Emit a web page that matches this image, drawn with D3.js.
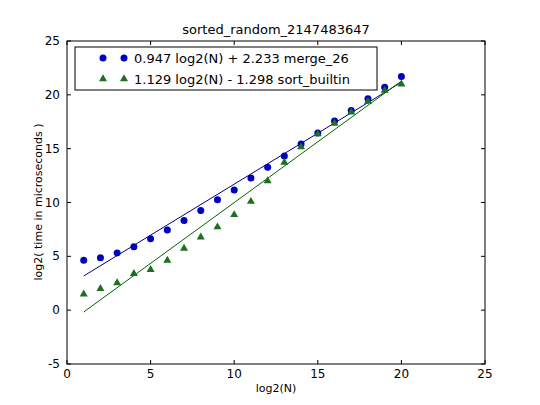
<!DOCTYPE html>
<html><head><meta charset="utf-8">
<script src="https://cdn.jsdelivr.net/npm/d3@7"></script>
<style>body{margin:0;background:#fff}text{font-family:"DejaVu Sans",sans-serif}</style>
</head><body><svg id="c" width="540" height="405"></svg>
<script>
const xs = d3.range(1, 21)
const merge26 = [4.63,4.88,5.31,5.9,6.64,7.44,8.33,9.26,10.25,11.17,12.28,13.27,14.32,15.43,16.45,17.56,18.55,19.63,20.71,21.7]
const builtin = [1.48,2.0,2.53,3.4,3.77,4.63,5.74,6.79,7.72,8.86,10.09,12.0,13.73,15.15,16.36,17.35,18.4,19.38,20.4,20.99]
const fits = [[0.947, 2.233], [1.129, -1.298]]
const labels = ['0.947 log2(N) + 2.233 merge_26', '1.129 log2(N) - 1.298 sort_builtin']
const colors = ['#0000bf', '#1f6f1f']
const lineColors = ['#00007f', '#006400']
const xTicks = [0,5,10,15,20,25], yTicks = [-5,0,5,10,15,20,25]

const svg = d3.select('#c')
const x = d3.scaleLinear().domain([0,25]).range([67,485])
const y = d3.scaleLinear().domain([-5,25]).range([364,41])

svg.append('rect').attr('x',67).attr('y',41).attr('width',418).attr('height',323)
    .attr('fill','none').attr('stroke','#000')

// ticks inside the frame, on both sides
xTicks.forEach(t => {
  svg.append('line').attr('x1',x(t)).attr('x2',x(t)).attr('y1',364).attr('y2',360).attr('stroke','#000')
  svg.append('line').attr('x1',x(t)).attr('x2',x(t)).attr('y1',41).attr('y2',45).attr('stroke','#000')
  svg.append('text').attr('x',x(t)).attr('y',378).attr('text-anchor','middle').attr('font-size',12).text(t)
})
yTicks.forEach(t => {
  svg.append('line').attr('x1',67).attr('x2',71).attr('y1',y(t)).attr('y2',y(t)).attr('stroke','#000')
  svg.append('line').attr('x1',485).attr('x2',481).attr('y1',y(t)).attr('y2',y(t)).attr('stroke','#000')
  svg.append('text').attr('x',60).attr('y',y(t)+4).attr('text-anchor','end').attr('font-size',12).text(t)
})

svg.append('text').attr('x',276).attr('y',34).attr('text-anchor','middle').attr('font-size',13).text('sorted_random_2147483647')
svg.append('text').attr('x',276).attr('y',392).attr('text-anchor','middle').attr('font-size',11).text('log2(N)')
svg.append('text').attr('transform','translate(42,202) rotate(-90)').attr('text-anchor','middle').attr('font-size',11).text('log2( time in microseconds )')

fits.forEach(([a,b], i) => {
  svg.append('line').attr('x1',x(1)).attr('y1',y(a*1+b)).attr('x2',x(20)).attr('y2',y(a*20+b))
      .attr('stroke',lineColors[i]).attr('stroke-width',1)
})

const tri = d3.symbol().type(d3.symbolTriangle).size(28)
svg.selectAll('.m').data(xs).join('circle')
    .attr('cx',d=>x(d)).attr('cy',(d,i)=>y(merge26[i])).attr('r',3.5).attr('fill',colors[0])
svg.selectAll('.b').data(xs).join('path').attr('d',tri)
    .attr('transform',(d,i)=>`translate(${x(d)},${y(builtin[i])})`).attr('fill',colors[1])

// legend
svg.append('rect').attr('x',75).attr('y',47).attr('width',302).attr('height',43).attr('fill','#fff').attr('stroke','#000')
labels.forEach((l,i) => {
  const ly = 58 + i*21
  ;[103,124].forEach(px => {
    if (i === 0) svg.append('circle').attr('cx',px).attr('cy',ly).attr('r',3.5).attr('fill',colors[0])
    else svg.append('path').attr('d',tri).attr('transform',`translate(${px},${ly})`).attr('fill',colors[1])
  })
  svg.append('text').attr('x',134).attr('y',ly+5).attr('font-size',13).text(l)
})
</script></body></html>
